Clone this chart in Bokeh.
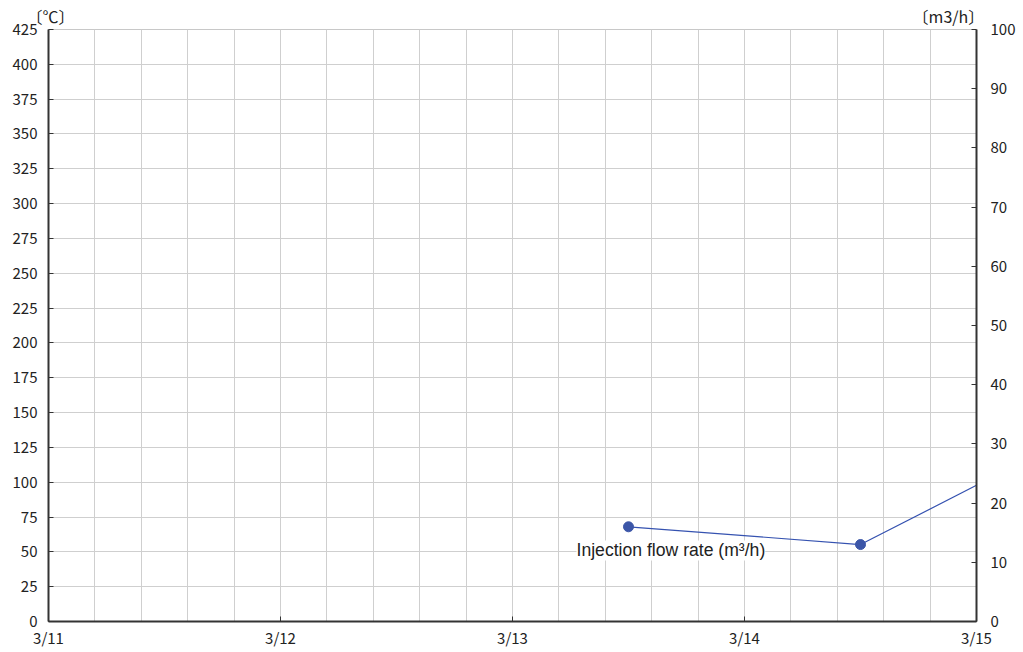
from bokeh.plotting import figure
from bokeh.models import (Range1d, LinearAxis, SingleIntervalTicker, FixedTicker, Label)
from bokeh.embed import file_html
from bokeh.resources import INLINE

# Date axis: days counted from 3/11 00:00
day_ticks = [0, 1, 2, 3, 4]
day_labels = ["3/11", "3/12", "3/13", "3/14", "3/15"]

# Injection flow rate readings (m3/h)
flow_day = [2.5, 3.5, 4.0]
flow_rate = [16, 13, 23]
flow_marked = [True, True, False]

temp_max = 425
flow_max = 100

# unit captions shown above the plot, near each vertical axis
unit_pos = [0.009, 3.879]
unit_text = ["〔℃〕", "〔m3/h〕"]

TICK_FONT = "Noto Sans CJK JP"

p = figure(width=1023, height=652, output_backend="svg", toolbar_location=None,
           x_range=Range1d(0, 4), y_range=Range1d(0, temp_max),
           min_border_left=48, min_border_right=47, min_border_top=29,
           min_border_bottom=31, outline_line_color="#c8c8c8",
           background_fill_color="white", border_fill_color="white")
p.extra_y_ranges = {"flow": Range1d(0, flow_max)}

# grid
p.xgrid.ticker = SingleIntervalTicker(interval=0.2)
p.ygrid.ticker = SingleIntervalTicker(interval=25)
for g in (p.xgrid, p.ygrid):
    g.grid_line_color = "#cfcfcf"
    g.grid_line_width = 1

# axes
p.xaxis.ticker = FixedTicker(ticks=day_ticks)
p.xaxis.major_label_overrides = {t: l for t, l in zip(day_ticks, day_labels)}
p.yaxis.ticker = SingleIntervalTicker(interval=25)

right = LinearAxis(y_range_name="flow", ticker=SingleIntervalTicker(interval=10))
p.add_layout(right, "right")

for ax in (p.xaxis[0], p.yaxis[0], right):
    ax.axis_line_color = "#333333"
    ax.axis_line_width = 2
    ax.major_tick_line_color = "#333333"
    ax.major_tick_in = 5
    ax.major_tick_out = 0
    ax.minor_tick_line_color = None
    ax.major_label_text_font = TICK_FONT
    ax.major_label_text_font_size = "15px"
    ax.major_label_text_color = "#222222"
p.yaxis[0].major_label_standoff = 7
right.major_label_standoff = 10
p.xaxis[0].major_label_standoff = 5

# unit captions as a bare axis along the top
units = LinearAxis(ticker=FixedTicker(ticks=unit_pos),
                   major_label_overrides={t: s for t, s in zip(unit_pos, unit_text)},
                   axis_line_color=None, major_tick_line_color=None,
                   major_tick_in=0, major_tick_out=0,
                   minor_tick_line_color=None, minor_tick_in=0, minor_tick_out=0,
                   major_label_standoff=2,
                   major_label_text_font=TICK_FONT, major_label_text_font_size="16px",
                   major_label_text_color="#222222")
p.add_layout(units, "above")

# flow series
p.line(flow_day, flow_rate, y_range_name="flow", line_color="#3552b0", line_width=1.2)
mx = [d for d, m in zip(flow_day, flow_marked) if m]
my = [v for v, m in zip(flow_rate, flow_marked) if m]
p.scatter(mx, my, y_range_name="flow", size=10, fill_color="#3c56a8",
          line_color="#3c56a8")

# series label
p.add_layout(Label(x=2.276, y=12.0, y_range_name="flow", text="Injection flow rate (m³/h)",
                   text_font="Liberation Sans", text_font_size="17.6px",
                   text_color="#222222", text_baseline="middle",
                   background_fill_color="white", background_fill_alpha=1.0))

open("out.html", "w").write(file_html(p, INLINE))
